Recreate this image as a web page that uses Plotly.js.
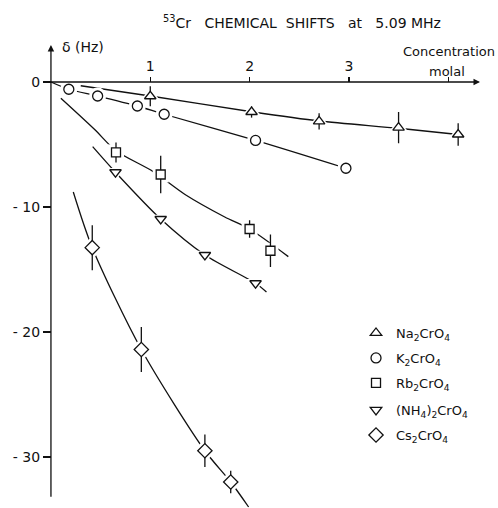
<!DOCTYPE html>
<html>
<head>
<meta charset="utf-8">
<script src="https://cdn.plot.ly/plotly-3.0.1.min.js"></script>
<style>html,body{margin:0;padding:0;background:#fff;}#chart{width:498px;height:508px;}</style>
</head>
<body>
<div id="chart"></div>
<script>
// ---- data ----
const naX = [1.0, 2.02, 2.70, 3.50, 4.10];
const naY = [-1.14, -2.4, -3.15, -3.65, -4.2];
const naErr = [0.8, 0.45, 0.65, 1.25, 0.9];
const naLineX = [0.30, 1.0, 2.02, 2.70, 3.50, 4.10];
const naLineY = [-0.3, -1.12, -2.38, -3.12, -3.7, -4.2];

const kX = [0.18, 0.47, 0.87, 1.14, 2.06, 2.97];
const kY = [-0.58, -1.12, -1.92, -2.58, -4.67, -6.9];
const kLineX = [0, 0.18, 0.47, 0.87, 1.14, 2.06, 2.97];
const kLineY = [0, -0.58, -1.12, -1.92, -2.58, -4.67, -6.9];

const rbX = [0.655, 1.105, 2.00, 2.21];
const rbY = [-5.63, -7.4, -11.76, -13.5];
const rbErr = [0.8, 1.5, 0.7, 1.3];
const rbLineX = [0.10, 0.44, 0.655, 1.03, 1.35, 1.75, 2.0, 2.39];
const rbLineY = [-1.3, -3.8, -5.5, -7.17, -9.0, -10.8, -11.76, -13.97];

const nhX = [0.65, 1.105, 1.55, 2.06];
const nhY = [-7.22, -10.96, -13.84, -16.1];
const nhLineX = [0.42, 0.65, 1.105, 1.55, 2.06, 2.17];
const nhLineY = [-5.17, -7.22, -10.96, -13.84, -16.1, -16.8];

const csX = [0.416, 0.91, 1.55, 1.81];
const csY = [-13.25, -21.4, -29.5, -32.0];
const csErr = [1.8, 1.8, 1.3, 0.9];
const csLineX = [0.225, 0.416, 0.91, 1.55, 1.81, 1.99];
const csLineY = [-8.8, -13.25, -21.4, -29.5, -32.0, -34.0];

const names = ['Na<sub>2</sub>CrO<sub>4</sub>', 'K<sub>2</sub>CrO<sub>4</sub>', 'Rb<sub>2</sub>CrO<sub>4</sub>',
               '(NH<sub>4</sub>)<sub>2</sub>CrO<sub>4</sub>', 'Cs<sub>2</sub>CrO<sub>4</sub>'];
const xTickVals = [1, 2, 3, 4];
const xTickText = ['1', '2', '3', ''];
const yTickVals = [0, -10, -20, -30];
const yTickText = ['0', '- 10', '- 20', '- 30'];

// ---- build traces ----
const series = [
  {x: naX, y: naY, err: naErr, lx: naLineX, ly: naLineY, sym: 'triangle-up', size: 10},
  {x: kX, y: kY, err: null, lx: kLineX, ly: kLineY, sym: 'circle', size: 10},
  {x: rbX, y: rbY, err: rbErr, lx: rbLineX, ly: rbLineY, sym: 'square', size: 9},
  {x: nhX, y: nhY, err: null, lx: nhLineX, ly: nhLineY, sym: 'triangle-down', size: 10},
  {x: csX, y: csY, err: csErr, lx: csLineX, ly: csLineY, sym: 'diamond', size: 11}
];
const legendIds = ['legend', 'legend2', 'legend3', 'legend4', 'legend5'];
const legendCenters = [333, 358, 383, 410, 435]; // pixel rows of legend entries
const lines = [], halos = [], points = [];
series.forEach((s, i) => {
  lines.push({x: s.lx, y: s.ly, mode: 'lines', showlegend: false, hoverinfo: 'skip',
    line: {color: '#111', width: 1.3, shape: 'spline', smoothing: 0.8}});
  halos.push({x: s.x, y: s.y, mode: 'markers', showlegend: false, hoverinfo: 'skip',
    marker: {symbol: s.sym, size: s.size + 7, color: '#fff', line: {width: 0}}});
  const t = {x: s.x, y: s.y, mode: 'markers', name: names[i], legend: legendIds[i],
    marker: {symbol: s.sym, size: s.size, color: '#fff', line: {color: '#111', width: 1.3}}};
  if (s.err) t.error_y = {type: 'data', array: s.err, visible: true, color: '#111', thickness: 1.3, width: 0};
  points.push(t);
});
const data = lines.concat(halos, points);

const font = {family: 'DejaVu Sans', color: '#111'};
const xr = [-0.08, 4.34], yr = [-34.08, 3.2];
const M = {l: 43, r: 16, t: 42, b: 0};
const plotH = 508 - M.t - M.b, plotW = 498 - M.l - M.r;
const layout = {
  width: 498, height: 508,
  margin: M,
  paper_bgcolor: '#fff', plot_bgcolor: '#fff',
  font: Object.assign({size: 13}, font),
  title: {text: '<sup>53</sup>Cr&nbsp;&nbsp;&nbsp;CHEMICAL&nbsp;&nbsp;SHIFTS&nbsp;&nbsp;&nbsp;at&nbsp;&nbsp;&nbsp;5.09 MHz',
    font: Object.assign({size: 14}, font), xref: 'container', yref: 'container',
    x: 302 / 498, xanchor: 'center', y: 1 - 23 / 508, yanchor: 'middle'},
  xaxis: {range: xr, anchor: 'free', position: (0 - yr[0]) / (yr[1] - yr[0]), side: 'top',
    showgrid: false, zeroline: false, showline: false, ticks: 'outside', ticklen: 5, tickwidth: 1.3,
    tickcolor: '#111', tickvals: xTickVals, ticktext: xTickText, tickfont: Object.assign({size: 14}, font)},
  yaxis: {range: yr, anchor: 'free', position: (0 - xr[0]) / (xr[1] - xr[0]), side: 'left',
    showgrid: false, zeroline: false, showline: false, ticks: 'outside', ticklen: 8, tickwidth: 1.3,
    tickcolor: '#111', tickvals: yTickVals, ticktext: yTickText, tickfont: Object.assign({size: 14}, font)},
  showlegend: true,
  annotations: [
    {x: 4.32, y: 0, ax: -0.08, ay: 0, xref: 'x', yref: 'y', axref: 'x', ayref: 'y', text: '',
     showarrow: true, arrowhead: 2, arrowsize: 1, arrowwidth: 1.3, arrowcolor: '#111', standoff: 0},
    {x: 0, y: 2.96, ax: 0, ay: -33.3, xref: 'x', yref: 'y', axref: 'x', ayref: 'y', text: '',
     showarrow: true, arrowhead: 2, arrowsize: 1, arrowwidth: 1.3, arrowcolor: '#111', standoff: 0},
    {x: 0.09, y: 2.8, xref: 'x', yref: 'y', text: 'δ (Hz)', showarrow: false, xanchor: 'left', yanchor: 'middle',
     font: Object.assign({size: 14}, font)},
    {x: (497 - M.l) / plotW, y: 1 - (52 - M.t) / plotH, xref: 'paper', yref: 'paper', text: 'Concentration',
     showarrow: false, xanchor: 'right', yanchor: 'middle', font: Object.assign({size: 13}, font)},
    {x: (427 - M.l) / plotW, y: 1 - (71 - M.t) / plotH, xref: 'paper', yref: 'paper', text: 'molal',
     showarrow: false, xanchor: 'left', yanchor: 'middle', font: Object.assign({size: 13}, font)}
  ]
};
legendIds.forEach((id, i) => {
  layout[id] = {x: 0.713, y: 1 - (legendCenters[i] - M.t) / plotH, xanchor: 'left', yanchor: 'middle',
    bgcolor: 'rgba(0,0,0,0)', font: Object.assign({size: 13}, font), itemwidth: 30};
});
Plotly.newPlot('chart', data, layout, {staticPlot: true, displayModeBar: false});
</script>
</body>
</html>
